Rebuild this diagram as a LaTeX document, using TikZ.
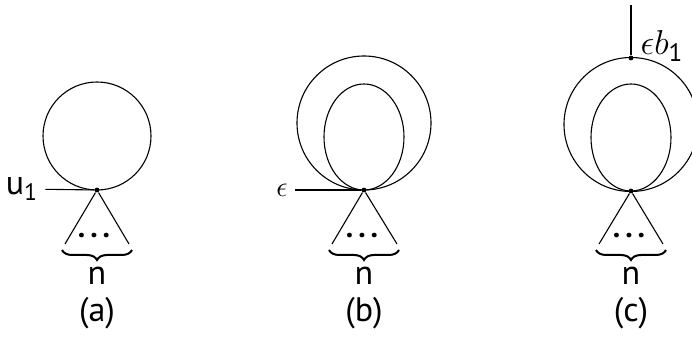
\documentclass[tikz,border=0pt]{standalone}
\usepackage{amsmath}
\usepackage{fontspec}
\setmainfont{PT Sans}
\usepackage{tikz}
\usetikzlibrary{decorations.pathreplacing}

\begin{document}
\begin{tikzpicture}[x=0.5pt,y=-0.5pt,line width=0.55pt,
    every node/.style={font=\fontsize{17}{20}\selectfont},
    vertex/.style={circle,fill,inner sep=0pt,minimum size=2.4pt},
    dotsnode/.style={inner sep=0pt,font=\bfseries\fontsize{15}{18}\selectfont},
    lbrace/.style={decorate,decoration={brace,mirror,amplitude=5pt},line width=1pt}]
    \useasboundingbox (0,0) rectangle (692,341);
    % (a)
    \node[vertex] (va) at (97,190) {};
    \draw (97,136) circle[radius=54];
    \node (ua) at (22,189) {u\textsubscript{1}};
    \draw (ua) -- (va);
    \coordinate (la) at (65,244);
    \coordinate (ra) at (129,244);
    \draw (la) -- (va) -- (ra);
    \node[dotsnode] (da) at (94,236) {.\,.\,.};
    \draw[lbrace] (62,250) -- (132,250);
    \node (na) at (97,276) {n};
    \node (capa) at (97,313) {(a)};
    % (b)
    \node[vertex] (vb) at (364,190) {};
    \draw (364,123) circle[radius=67];
    \draw (364,137) ellipse[x radius=40,y radius=53];
    \node[font=\fontsize{14}{16}\selectfont] (eb) at (282,190) {$\epsilon$};
    \draw (eb) -- (vb);
    \coordinate (lb) at (332,244);
    \coordinate (rb) at (397,244);
    \draw (lb) -- (vb) -- (rb);
    \node[dotsnode] (db) at (362,236) {.\,.\,.};
    \draw[lbrace] (329,250) -- (399,250);
    \node (nb) at (364,276) {n};
    \node (capb) at (364,313) {(b)};
    % (c)
    \node[vertex] (vc) at (631,191) {};
    \node[vertex] (tc) at (631,58) {};
    \draw (631,124.5) circle[radius=67];
    \draw (631,137.5) ellipse[x radius=40,y radius=53.5];
    \coordinate (topc) at (631,5);
    \draw (tc) -- (topc);
    \node[font=\fontsize{18}{20}\selectfont] (ec) at (662,46) {$\epsilon b_{\text{1}}$};
    \coordinate (lc) at (599,244);
    \coordinate (rc) at (663,244);
    \draw (lc) -- (vc) -- (rc);
    \node[dotsnode] (dc) at (629,236) {.\,.\,.};
    \draw[lbrace] (596,250) -- (666,250);
    \node (nc) at (631,276) {n};
    \node (capc) at (631,313) {(c)};
\end{tikzpicture}
\end{document}
